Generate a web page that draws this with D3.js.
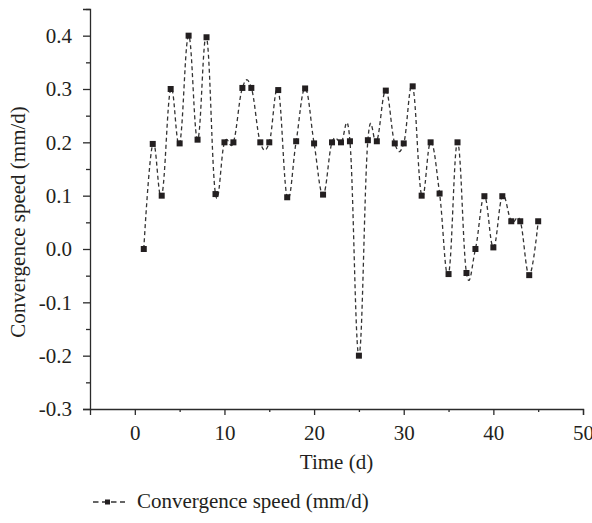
<!DOCTYPE html>
<html>
<head>
<meta charset="utf-8">
<script src="https://cdn.jsdelivr.net/npm/d3@7"></script>
<style>
  body { margin: 0; background: #fff; }
  svg text { font-family: 'Liberation Serif', serif; fill: #231f20; }
</style>
</head>
<body>
<svg id="chart" width="592" height="523"></svg>
<script>
const days = [1, 2, 3, 4, 5, 6, 7, 8, 9, 10, 11, 12, 13, 14, 15, 16, 17, 18, 19, 20, 21, 22, 23,
  24, 25, 26, 27, 28, 29, 30, 31, 32, 33, 34, 35, 36, 37, 38, 39, 40, 41, 42, 43, 44, 45]
const speed = [0.0, 0.197, 0.1, 0.3, 0.198, 0.4, 0.205, 0.397, 0.103, 0.2, 0.2, 0.302, 0.302,
  0.2, 0.2, 0.298, 0.097, 0.202, 0.301, 0.198, 0.102, 0.2, 0.2, 0.202, -0.2, 0.204, 0.202,
  0.297, 0.198, 0.198, 0.305, 0.1, 0.2, 0.104, -0.047, 0.2, -0.045, 0.0, 0.099, 0.003, 0.099,
  0.052, 0.052, -0.049, 0.052]
const xTicks = [0, 10, 20, 30, 40, 50]
const xMinor = [5, 15, 25, 35, 45]
const yTicks = [-0.3, -0.2, -0.1, 0.0, 0.1, 0.2, 0.3, 0.4]
const yMinor = [-0.25, -0.15, -0.05, 0.05, 0.15, 0.25, 0.35, 0.45]
const seriesName = 'Convergence speed (mm/d)'

const svg = d3.select('#chart')
const ink = '#2b2b2b'
const fontSize = '21px'

const x = d3.scaleLinear().domain([-5, 50]).range([90, 583])
const y = d3.scaleLinear().domain([-0.3, 0.45]).range([409, 9])

const data = days.map((d, i) => ({ day: d, v: speed[i] }))
const fmtY = d => d3.format('.1f')(d).replace('−', '-')

// axes
const xAxis = svg.append('g').attr('transform', `translate(0, ${y(-0.3)})`)
xAxis.call(d3.axisBottom(x).tickValues(xTicks).tickSize(6).tickPadding(10).tickFormat(d3.format('d')))
xAxis.append('g').attr('class', 'minor')
  .call(d3.axisBottom(x).tickValues(xMinor).tickSize(3).tickFormat(''))

const yAxis = svg.append('g').attr('transform', `translate(${x(-5)}, 0)`)
yAxis.call(d3.axisLeft(y).tickValues(yTicks).tickSize(7).tickPadding(11).tickFormat(fmtY))
yAxis.append('g').attr('class', 'minor')
  .call(d3.axisLeft(y).tickValues(yMinor).tickSize(4).tickFormat(''))

svg.selectAll('.minor .domain').remove()
svg.selectAll('.domain').attr('stroke', ink).attr('stroke-width', 1.3)
svg.selectAll('.tick line').attr('stroke', ink).attr('stroke-width', 1.3)
svg.selectAll('.tick text')
  .style('font-family', "'Liberation Serif', serif")
  .style('font-size', fontSize)
  .attr('fill', '#231f20')

// titles
svg.append('text')
  .attr('x', x(22.5))
  .attr('y', 469)
  .attr('text-anchor', 'middle')
  .style('font-size', fontSize)
  .text('Time (d)')

svg.append('text')
  .attr('transform', 'translate(25, 222) rotate(-90)')
  .attr('text-anchor', 'middle')
  .style('font-size', fontSize)
  .text(seriesName)

// series
const line = d3.line()
  .x(d => x(d.day))
  .y(d => y(d.v))
  .curve(d3.curveCardinal.tension(-0.2))

svg.append('path')
  .datum(data)
  .attr('d', line)
  .attr('fill', 'none')
  .attr('stroke', '#333')
  .attr('stroke-width', 1.3)
  .attr('stroke-dasharray', '4,3')

svg.append('g')
  .selectAll('rect')
  .data(data)
  .enter()
  .append('rect')
  .attr('x', d => x(d.day) - 3)
  .attr('y', d => y(d.v) - 3)
  .attr('width', 6)
  .attr('height', 6)
  .attr('fill', '#231f20')

// legend
const legend = svg.append('g').attr('transform', 'translate(93, 502)')
legend.append('line')
  .attr('x1', 0).attr('x2', 32)
  .attr('stroke', '#333')
  .attr('stroke-width', 1.3)
  .attr('stroke-dasharray', '5.5,3.5')
legend.append('rect')
  .attr('x', 12).attr('y', -2.5)
  .attr('width', 5).attr('height', 5)
  .attr('fill', '#231f20')
legend.append('text')
  .attr('x', 44)
  .attr('y', 6)
  .style('font-size', fontSize)
  .text(seriesName)
</script>
</body>
</html>
